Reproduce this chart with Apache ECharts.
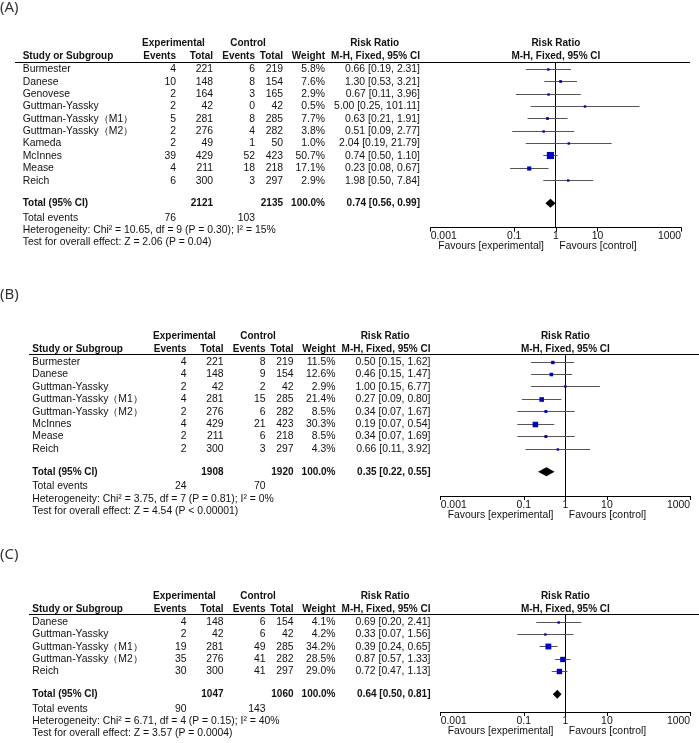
<!DOCTYPE html>
<html><head><meta charset="utf-8">
<script src="https://cdn.jsdelivr.net/npm/echarts@6/dist/echarts.min.js"></script>
<style>html,body{margin:0;padding:0;background:#fff}#c{width:699px;height:743px}</style>
</head><body><div id="c"></div>
<script>
// ---------------- data ----------------
const A_studies = ['Burmester','Danese','Genovese','Guttman-Yassky','Guttman-Yassky（M1）','Guttman-Yassky（M2）','Kameda','McInnes','Mease','Reich'];
const A_expEvents = [4,10,2,2,5,2,2,39,4,6];
const A_expTotal  = [221,148,164,42,281,276,49,429,211,300];
const A_ctrlEvents = [6,8,3,0,8,4,1,52,18,3];
const A_ctrlTotal  = [219,154,165,42,285,282,50,423,218,297];
const A_weight = [5.8,7.6,2.9,0.5,7.7,3.8,1.0,50.7,17.1,2.9];
const A_rr = [0.66,1.30,0.67,5.00,0.63,0.51,2.04,0.74,0.23,1.98];
const A_lo = [0.19,0.53,0.11,0.25,0.21,0.09,0.19,0.50,0.08,0.50];
const A_hi = [2.31,3.21,3.96,101.11,1.91,2.77,21.79,1.10,0.67,7.84];
const A_total = [2121,2135,100.0,0.74,0.56,0.99];   // expTotal, ctrlTotal, weight, rr, lo, hi
const A_totalEvents = [76,103];
const A_heterogeneity = 'Heterogeneity: Chi² = 10.65, df = 9 (P = 0.30); I² = 15%';
const A_overallTest = 'Test for overall effect: Z = 2.06 (P = 0.04)';

const B_studies = ['Burmester','Danese','Guttman-Yassky','Guttman-Yassky（M1）','Guttman-Yassky（M2）','McInnes','Mease','Reich'];
const B_expEvents = [4,4,2,4,2,4,2,2];
const B_expTotal  = [221,148,42,281,276,429,211,300];
const B_ctrlEvents = [8,9,2,15,6,21,6,3];
const B_ctrlTotal  = [219,154,42,285,282,423,218,297];
const B_weight = [11.5,12.6,2.9,21.4,8.5,30.3,8.5,4.3];
const B_rr = [0.50,0.46,1.00,0.27,0.34,0.19,0.34,0.66];
const B_lo = [0.15,0.15,0.15,0.09,0.07,0.07,0.07,0.11];
const B_hi = [1.62,1.47,6.77,0.80,1.67,0.54,1.69,3.92];
const B_total = [1908,1920,100.0,0.35,0.22,0.55];
const B_totalEvents = [24,70];
const B_heterogeneity = 'Heterogeneity: Chi² = 3.75, df = 7 (P = 0.81); I² = 0%';
const B_overallTest = 'Test for overall effect: Z = 4.54 (P < 0.00001)';

const C_studies = ['Danese','Guttman-Yassky','Guttman-Yassky（M1）','Guttman-Yassky（M2）','Reich'];
const C_expEvents = [4,2,19,35,30];
const C_expTotal  = [148,42,281,276,300];
const C_ctrlEvents = [6,6,49,41,41];
const C_ctrlTotal  = [154,42,285,282,297];
const C_weight = [4.1,4.2,34.2,28.5,29.0];
const C_rr = [0.69,0.33,0.39,0.87,0.72];
const C_lo = [0.20,0.07,0.24,0.57,0.47];
const C_hi = [2.41,1.56,0.65,1.33,1.13];
const C_total = [1047,1060,100.0,0.64,0.50,0.81];
const C_totalEvents = [90,143];
const C_heterogeneity = 'Heterogeneity: Chi² = 6.71, df = 4 (P = 0.15); I² = 40%';
const C_overallTest = 'Test for overall effect: Z = 3.57 (P = 0.0004)';

const forestTicks = [0.001,0.1,1,10,1000];
const forestTickLabels = ['0.001','0.1','1','10','1000'];

// ---------------- layout ----------------
const FONT = '"Liberation Sans", Arial, sans-serif';
const TXT = '#111';
const NORMAL_SIZE = 10.4, BOLD_SIZE = 10;
const colsBC = {name:32.3, ev:186.5, tot:223.5, cev:265.5, ctot:293.5, wt:335.5, ci:430.5, exp:184.5, ctl:258};
const layouts = [
  {row0:69.5, rowH:12.35, labelRow:-4.98, axisRow:12.8,
   cols:{name:22.7, ev:176, tot:213, cev:255, ctot:283, wt:325, ci:420, exp:173.5, ctl:248},
   rule:[15,690], axisX:[430.7,681]},
  {row0:362, rowH:12.43, labelRow:-5.39, axisRow:10.78, cols:colsBC, rule:[29,699], axisX:[440.7,690]},
  {row0:622, rowH:12.4, labelRow:-5.4, axisRow:7.26, cols:colsBC, rule:[29,699], axisX:[440.7,690]}
];

const panels = [
  {label:'(A)', studies:A_studies, ev:A_expEvents, tot:A_expTotal, cev:A_ctrlEvents, ctot:A_ctrlTotal, w:A_weight, rr:A_rr, lo:A_lo, hi:A_hi, total:A_total, events:A_totalEvents, het:A_heterogeneity, test:A_overallTest},
  {label:'(B)', studies:B_studies, ev:B_expEvents, tot:B_expTotal, cev:B_ctrlEvents, ctot:B_ctrlTotal, w:B_weight, rr:B_rr, lo:B_lo, hi:B_hi, total:B_total, events:B_totalEvents, het:B_heterogeneity, test:B_overallTest},
  {label:'(C)', studies:C_studies, ev:C_expEvents, tot:C_expTotal, cev:C_ctrlEvents, ctot:C_ctrlTotal, w:C_weight, rr:C_rr, lo:C_lo, hi:C_hi, total:C_total, events:C_totalEvents, het:C_heterogeneity, test:C_overallTest}
];

const f2 = v => v.toFixed(2);
const ciText = (r,l,h) => f2(r)+' ['+f2(l)+', '+f2(h)+']';
const tickLabel = v => {
  const i = forestTicks.findIndex(t => Math.abs(Math.log10(t) - Math.log10(v)) < 1e-6);
  return i >= 0 ? forestTickLabels[i] : '';
};
const snap = y => Math.round(y - 0.5) + 0.5;

const grid = [], xAxis = [], yAxis = [], series = [];

panels.forEach((P, i) => {
  const L = layouts[i], C = L.cols, n = P.studies.length;
  const rowY = r => L.row0 + r * L.rowH;
  const tMin = L.labelRow - 0.6, tMax = n + 4.5;
  const fMin = -0.58, fMax = L.axisRow;
  const x1 = (L.axisX[0] + L.axisX[1]) / 2;
  const tg = 2 * i, fg = 2 * i + 1;

  // table grid: x in pixels, y in rows
  grid.push({left:0, width:699, top:rowY(tMin), height:rowY(tMax) - rowY(tMin), outerBoundsMode:'none', containLabel:false});
  xAxis.push({type:'value', gridIndex:tg, min:0, max:699, show:false});
  yAxis.push({type:'value', gridIndex:tg, min:tMin, max:tMax, inverse:true, show:false});

  // forest grid: log x, y in rows
  grid.push({left:L.axisX[0], width:L.axisX[1] - L.axisX[0], top:rowY(fMin), height:rowY(fMax) - rowY(fMin), outerBoundsMode:'none', containLabel:false});
  xAxis.push({type:'log', logBase:10, gridIndex:fg, min:0.001, max:1000, position:'bottom',
    axisLine:{show:true, onZero:false, lineStyle:{color:'#000', width:1}},
    axisTick:{show:true, customValues:forestTicks, length:4, lineStyle:{color:'#000', width:1}},
    minorTick:{show:false}, splitLine:{show:false},
    axisLabel:{show:true, customValues:forestTicks, formatter:tickLabel, fontFamily:FONT, fontSize:NORMAL_SIZE, color:TXT, margin:4, alignMinLabel:'left', alignMaxLabel:'right'}});
  yAxis.push({type:'value', gridIndex:fg, min:fMin, max:fMax, inverse:true, show:false});

  // ---- table cells ----
  const cells = [];
  const add = (x, row, text, align, bold, extra) => cells.push(Object.assign({x, row, text, align, bold}, extra || {}));
  add(0, L.labelRow, P.label, 'left', false, {font:'"Noto Sans", "DejaVu Sans", sans-serif', size:15, color:'#333'});
  add(C.exp, -2.1, 'Experimental', 'center', true);
  add(C.ctl, -2.1, 'Control', 'center', true);
  add(C.ci - 45.4, -2.1, 'Risk Ratio', 'center', true);
  add(x1, -2.1, 'Risk Ratio', 'center', true);
  add(C.name, -1.05, 'Study or Subgroup', 'left', true);
  add(C.ev, -1.05, 'Events', 'right', true);
  add(C.tot, -1.05, 'Total', 'right', true);
  add(C.cev, -1.05, 'Events', 'right', true);
  add(C.ctot, -1.05, 'Total', 'right', true);
  add(C.wt, -1.05, 'Weight', 'right', true);
  add(C.ci, -1.05, 'M-H, Fixed, 95% CI', 'right', true);
  add(x1, -1.05, 'M-H, Fixed, 95% CI', 'center', true);
  for (let k = 0; k < n; k++) {
    add(C.name, k, P.studies[k], 'left', false);
    add(C.ev, k, String(P.ev[k]), 'right', false);
    add(C.tot, k, String(P.tot[k]), 'right', false);
    add(C.cev, k, String(P.cev[k]), 'right', false);
    add(C.ctot, k, String(P.ctot[k]), 'right', false);
    add(C.wt, k, P.w[k].toFixed(1) + '%', 'right', false);
    add(C.ci, k, ciText(P.rr[k], P.lo[k], P.hi[k]), 'right', false);
  }
  const tr = n + 0.83;
  add(C.name, tr, 'Total (95% CI)', 'left', true);
  add(C.tot, tr, String(P.total[0]), 'right', true);
  add(C.ctot, tr, String(P.total[1]), 'right', true);
  add(C.wt, tr, P.total[2].toFixed(1) + '%', 'right', true);
  add(C.ci, tr, ciText(P.total[3], P.total[4], P.total[5]), 'right', true);
  add(C.name, n + 2, 'Total events', 'left', false);
  add(C.ev, n + 2, String(P.events[0]), 'right', false);
  add(C.cev, n + 2, String(P.events[1]), 'right', false);
  add(C.name, n + 3, P.het, 'left', false);
  add(C.name, n + 4, P.test, 'left', false);

  series.push({
    type:'custom', xAxisIndex:tg, yAxisIndex:tg, silent:true, animation:false, clip:false,
    encode:{x:0, y:1},
    data: cells.map(c => [c.x, c.row]),
    renderItem: (params, api) => {
      const c = cells[params.dataIndex];
      const p = api.coord([api.value(0), api.value(1)]);
      return {type:'text', x:p[0], y:p[1], style:{
        text:c.text, fontFamily:c.font || FONT, fontSize:c.size || (c.bold ? BOLD_SIZE : NORMAL_SIZE),
        fontWeight:c.bold ? 'bold' : 'normal', fill:c.color || TXT,
        align:c.align, verticalAlign:'middle'}};
    }
  });

  // header rule
  series.push({
    type:'custom', xAxisIndex:tg, yAxisIndex:tg, silent:true, animation:false, clip:false,
    encode:{x:0, y:1},
    data:[[L.rule[0], -0.58, L.rule[1]]],
    renderItem: (params, api) => {
      const a = api.coord([api.value(0), api.value(1)]);
      const b = api.coord([api.value(2), api.value(1)]);
      const y = snap(a[1]);
      return {type:'line', shape:{x1:a[0], y1:y, x2:b[0], y2:y}, style:{stroke:'#000', lineWidth:1}};
    }
  });

  // line of no effect
  series.push({
    type:'custom', xAxisIndex:fg, yAxisIndex:fg, silent:true, animation:false, clip:false,
    encode:{x:0, y:1},
    data:[[1, fMin, fMax]],
    renderItem: (params, api) => {
      const a = api.coord([api.value(0), api.value(1)]);
      const b = api.coord([api.value(0), api.value(2)]);
      const x = snap(a[0]);
      return {type:'line', shape:{x1:x, y1:a[1], x2:x, y2:b[1]}, style:{stroke:'#000', lineWidth:1}};
    }
  });

  // study estimates: CI lines + weighted squares
  series.push({
    type:'custom', xAxisIndex:fg, yAxisIndex:fg, silent:true, animation:false, clip:false,
    encode:{x:[0,1,2], y:3},
    data: P.studies.map((s, k) => [P.rr[k], P.lo[k], P.hi[k], k, P.w[k]]),
    renderItem: (params, api) => {
      const rr = api.value(0), lo = api.value(1), hi = api.value(2), row = api.value(3), w = api.value(4);
      const p = api.coord([rr, row]), a = api.coord([lo, row]), b = api.coord([hi, row]);
      const y = snap(p[1]);
      const s = Math.max(2.4, 1.0 * Math.sqrt(w));
      return {type:'group', children:[
        {type:'line', shape:{x1:a[0], y1:y, x2:b[0], y2:y}, style:{stroke:'#555', lineWidth:1}},
        {type:'rect', shape:{x:p[0] - s / 2, y:y - s / 2, width:s, height:s}, style:{fill:'#0000c8'}}
      ]};
    }
  });

  // pooled diamond
  series.push({
    type:'custom', xAxisIndex:fg, yAxisIndex:fg, silent:true, animation:false, clip:false,
    encode:{x:[0,1,2], y:3},
    data:[[P.total[3], P.total[4], P.total[5], n + 0.83]],
    renderItem: (params, api) => {
      const row = api.value(3);
      const p = api.coord([api.value(0), row]), a = api.coord([api.value(1), row]), b = api.coord([api.value(2), row]);
      const h = 4.5;
      return {type:'polygon', shape:{points:[[a[0], p[1]], [p[0], p[1] - h], [b[0], p[1]], [p[0], p[1] + h]]}, style:{fill:'#000'}};
    }
  });

  // favours labels under axis
  const notes = [
    {v:1, dx:-12, text:'Favours [experimental]', align:'right'},
    {v:1, dx:3.5, text:'Favours [control]', align:'left'}
  ];
  series.push({
    type:'custom', xAxisIndex:fg, yAxisIndex:fg, silent:true, animation:false, clip:false,
    encode:{x:0, y:1},
    data: notes.map(nn => [nn.v, fMax]),
    renderItem: (params, api) => {
      const nn = notes[params.dataIndex];
      const p = api.coord([api.value(0), api.value(1)]);
      return {type:'text', x:p[0] + nn.dx, y:p[1] + 19, style:{text:nn.text, fontFamily:FONT, fontSize:NORMAL_SIZE, fill:TXT, align:nn.align, verticalAlign:'middle'}};
    }
  });
});

const chart = echarts.init(document.getElementById('c'), null, {renderer:'canvas'});
chart.setOption({backgroundColor:'#fff', animation:false, grid, xAxis, yAxis, series});
</script>
</body></html>
